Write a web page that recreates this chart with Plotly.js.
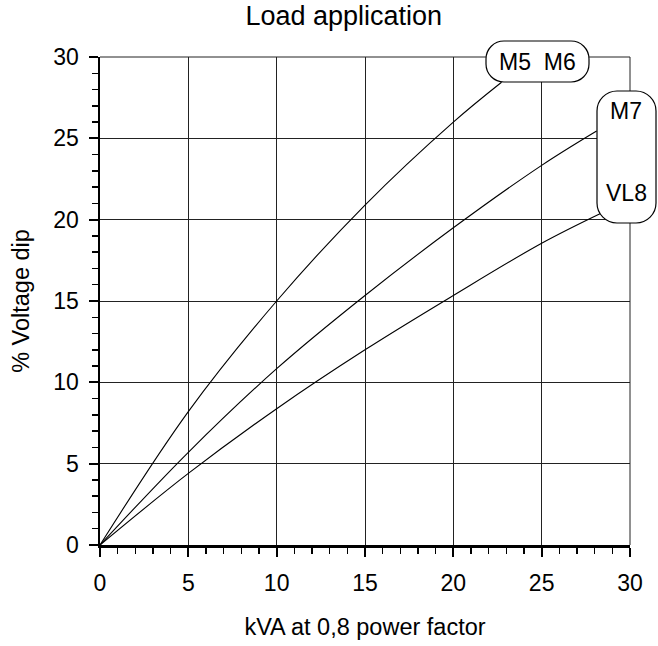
<!DOCTYPE html>
<html>
<head>
<meta charset="utf-8">
<script src="https://cdn.plot.ly/plotly-3.0.1.min.js"></script>
<style>html,body{margin:0;padding:0;background:#fff;}#chart{width:658px;height:646px;}</style>
</head>
<body>
<div id="chart"></div>
<script>
// ---- data ----
var kvaTop = [0, 5, 10, 15, 20, 22.73];
var dipM5M6 = [0, 8.2, 15.0, 20.9, 26.0, 28.45];

var kvaMid = [0, 5, 10, 15, 20, 25, 28.11];
var dipM7 = [0, 5.7, 10.84, 15.34, 19.5, 23.34, 25.45];

var kvaLow = [0, 5, 10, 15, 20, 25, 28.39];
var dipVL8 = [0, 4.4, 8.38, 12.0, 15.34, 18.55, 20.41];

var tickVals = [0, 5, 10, 15, 20, 25, 30];
var tickText = ['0', '5', '10', '15', '20', '25', '30'];

var titleText = 'Load application';
var xTitle = 'kVA at 0,8 power factor';
var yTitle = '% Voltage dip';
var labelTop = 'M5&nbsp;&nbsp;M6';
var labelM7 = 'M7';
var labelVL8 = 'VL8';

// ---- layout ----
var W = 658, H = 646;
var M = {l: 100, r: 28, t: 57, b: 101};
var pw = W - M.l - M.r, ph = H - M.t - M.b;
var FONT = 'Liberation Sans, Arial, Helvetica, sans-serif';

function px2paperX(px) { return (px - M.l) / pw; }
function px2paperY(py) { return (H - M.b - py) / ph; }

function roundedPath(x0, y0, x1, y1, r) {
  var k = 0.5523;
  var X = px2paperX, Y = px2paperY;
  var p = [];
  p.push('M' + X(x0 + r) + ',' + Y(y0));
  p.push('L' + X(x1 - r) + ',' + Y(y0));
  p.push('C' + X(x1 - r + k * r) + ',' + Y(y0) + ' ' + X(x1) + ',' + Y(y0 + r - k * r) + ' ' + X(x1) + ',' + Y(y0 + r));
  p.push('L' + X(x1) + ',' + Y(y1 - r));
  p.push('C' + X(x1) + ',' + Y(y1 - r + k * r) + ' ' + X(x1 - r + k * r) + ',' + Y(y1) + ' ' + X(x1 - r) + ',' + Y(y1));
  p.push('L' + X(x0 + r) + ',' + Y(y1));
  p.push('C' + X(x0 + r - k * r) + ',' + Y(y1) + ' ' + X(x0) + ',' + Y(y1 - r + k * r) + ' ' + X(x0) + ',' + Y(y1 - r));
  p.push('L' + X(x0) + ',' + Y(y0 + r));
  p.push('C' + X(x0) + ',' + Y(y0 + r - k * r) + ' ' + X(x0 + r - k * r) + ',' + Y(y0) + ' ' + X(x0 + r) + ',' + Y(y0));
  p.push('Z');
  return p.join(' ');
}

var lineStyle = {color: '#000', width: 1.1, shape: 'spline', smoothing: 1};
var traces = [
  {x: kvaTop, y: dipM5M6, mode: 'lines', line: lineStyle, name: 'M5 M6', hoverinfo: 'x+y'},
  {x: kvaMid, y: dipM7, mode: 'lines', line: lineStyle, name: 'M7', hoverinfo: 'x+y'},
  {x: kvaLow, y: dipVL8, mode: 'lines', line: lineStyle, name: 'VL8', hoverinfo: 'x+y'}
];

var axisCommon = {
  range: [0, 30],
  tickmode: 'array',
  tickvals: tickVals,
  ticktext: tickText,
  showline: true,
  linecolor: '#000',
  linewidth: 2.5,
  ticks: 'outside',
  ticklen: 9,
  tickwidth: 2,
  tickcolor: '#000',
  showgrid: true,
  gridcolor: '#222',
  gridwidth: 1,
  zeroline: false,
  tickfont: {family: FONT, size: 23, color: '#000'},
  minor: {dtick: 1, ticks: 'outside', ticklen: 6, tickwidth: 1.5, tickcolor: '#000', showgrid: false},
  fixedrange: true
};

var layout = {
  width: W, height: H,
  margin: M,
  paper_bgcolor: '#fff', plot_bgcolor: '#fff',
  showlegend: false,
  font: {family: FONT, color: '#000'},
  title: {text: titleText, font: {family: FONT, size: 27, color: '#000'}, x: 0.46, xref: 'paper', xanchor: 'center', y: 1, yref: 'container', yanchor: 'top', pad: {t: 6}},
  xaxis: Object.assign({}, axisCommon, {
    title: {text: xTitle, font: {family: FONT, size: 23.5, color: '#000'}, standoff: 24},
    ticklabelstandoff: 7
  }),
  yaxis: Object.assign({}, axisCommon, {
    title: {text: yTitle, font: {family: FONT, size: 23.5, color: '#000'}, standoff: 17},
    ticklabelstandoff: 5
  }),
  shapes: [
    {type: 'line', xref: 'paper', yref: 'paper', x0: 0, x1: 1, y0: 1, y1: 1, layer: 'above', line: {color: '#222', width: 1}},
    {type: 'line', xref: 'paper', yref: 'paper', x0: 1, x1: 1, y0: 0, y1: 1, layer: 'above', line: {color: '#222', width: 1}},
    {type: 'path', xref: 'paper', yref: 'paper', layer: 'above', path: roundedPath(486, 41, 589, 82, 18), fillcolor: '#fff', line: {color: '#000', width: 1.2}},
    {type: 'path', xref: 'paper', yref: 'paper', layer: 'above', path: roundedPath(597, 91, 656, 223, 20), fillcolor: '#fff', line: {color: '#000', width: 1.2}}
  ],
  annotations: [
    {xref: 'paper', yref: 'paper', x: px2paperX(537.5), y: px2paperY(62), text: labelTop, showarrow: false, xanchor: 'center', yanchor: 'middle', font: {family: FONT, size: 23, color: '#000'}},
    {xref: 'paper', yref: 'paper', x: px2paperX(626), y: px2paperY(111), text: labelM7, showarrow: false, xanchor: 'center', yanchor: 'middle', font: {family: FONT, size: 23, color: '#000'}},
    {xref: 'paper', yref: 'paper', x: px2paperX(626), y: px2paperY(193), text: labelVL8, showarrow: false, xanchor: 'center', yanchor: 'middle', font: {family: FONT, size: 23, color: '#000'}}
  ]
};

Plotly.newPlot('chart', traces, layout, {staticPlot: true, displayModeBar: false});
</script>
</body>
</html>
